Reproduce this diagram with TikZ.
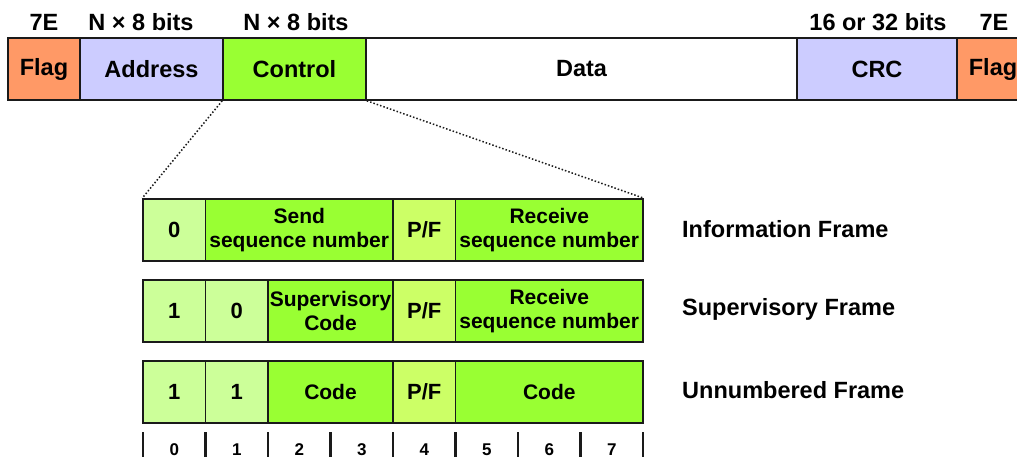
\documentclass[tikz,border=0pt]{standalone}
\usepackage{fontspec}
\setmainfont{Liberation Sans}
\definecolor{flagc}{HTML}{FF9966}
\definecolor{lavc}{HTML}{CCCCFF}
\definecolor{ctrlc}{HTML}{99FF33}
\definecolor{lightc}{HTML}{CCFF99}
\definecolor{pfc}{HTML}{CCFF66}
\definecolor{edgec}{HTML}{1A1A1A}
\begin{document}
\begin{tikzpicture}[x=1pt,y=-1pt,
  field/.style={draw=edgec, line width=1.6pt, inner sep=0pt, minimum height=62pt,
    font=\bfseries\fontsize{23.5}{28}\selectfont},
  cell/.style={draw=edgec, line width=1.6pt, inner sep=0pt, minimum height=62pt,
    align=center, font=\bfseries\fontsize{21}{24.5}\selectfont},
  bigcell/.style={cell, font=\bfseries\fontsize{22}{26}\selectfont},
  toplabel/.style={anchor=base, inner sep=0pt, font=\bfseries\fontsize{23.5}{28}\selectfont},
  rowlabel/.style={anchor=west, inner sep=0pt, font=\bfseries\fontsize{23.5}{28}\selectfont},
  bitnum/.style={anchor=base, inner sep=0pt, font=\bfseries\fontsize{17}{20}\selectfont},
  tick/.style={line width=2.2pt, draw=edgec},
  zoomline/.style={dotted, line width=1.5pt, draw=edgec}
]
\clip (0,0) rectangle (1017,459);

% HDLC frame
\node[field, fill=flagc, minimum width=72pt]  (flagL) at (44,69)    {Flag};
\node[field, fill=lavc,  minimum width=143pt] (addr)  at (151.5,69) {Address};
\node[field, fill=ctrlc, minimum width=143pt] (ctrl)  at (294.5,69) {Control};
\node[field, fill=white, minimum width=431pt] (data)  at (581.5,69) {Data};
\node[field, fill=lavc,  minimum width=160pt] (crc)   at (877,69)   {CRC};
\node[field, fill=flagc, minimum width=72pt]  (flagR) at (993,69)   {Flag};

% field sizes
\node[toplabel] (tflagL) at (44,30.5)  {7E};
\node[toplabel] (taddr)  at (141,30.5) {N × 8 bits};
\node[toplabel] (tctrl)  at (296,30.5) {N × 8 bits};
\node[toplabel] (tcrc)   at (878,30.5) {16 or 32 bits};
\node[toplabel] (tflagR) at (994,30.5) {7E};

% Information frame
\node[bigcell, fill=lightc, minimum width=62.5pt]  (i0)    at (174.25,230) {0};
\node[cell,    fill=ctrlc,  minimum width=187.5pt] (isend) at (299.25,230) {Send\\sequence number};
\node[bigcell, fill=pfc,    minimum width=62.5pt]  (ipf)   at (424.25,230) {P/F};
\node[cell,    fill=ctrlc,  minimum width=187.5pt] (irecv) at (549.25,230) {Receive\\sequence number};

% Supervisory frame
\node[bigcell, fill=lightc, minimum width=62.5pt]  (s0)    at (174.25,311) {1};
\node[bigcell, fill=lightc, minimum width=62.5pt]  (s1)    at (236.75,311) {0};
\node[cell,    fill=ctrlc,  minimum width=125pt]   (ssup)  at (330.5,311)  {Supervisory\\Code};
\node[bigcell, fill=pfc,    minimum width=62.5pt]  (spf)   at (424.25,311) {P/F};
\node[cell,    fill=ctrlc,  minimum width=187.5pt] (srecv) at (549.25,311) {Receive\\sequence number};

% Unnumbered frame
\node[bigcell, fill=lightc, minimum width=62.5pt]  (u0)     at (174.25,392) {1};
\node[bigcell, fill=lightc, minimum width=62.5pt]  (u1)     at (236.75,392) {1};
\node[cell,    fill=ctrlc,  minimum width=125pt]   (ucode)  at (330.5,392)  {Code};
\node[bigcell, fill=pfc,    minimum width=62.5pt]  (upf)    at (424.25,392) {P/F};
\node[cell,    fill=ctrlc,  minimum width=187.5pt] (ucode2) at (549.25,392) {Code};

% frame type names
\node[rowlabel] (linfo) at (682,229) {Information Frame};
\node[rowlabel] (lsup)  at (682,309) {Supervisory Frame};
\node[rowlabel] (lun)   at (682,390) {Unnumbered Frame};

% control field expanded
\draw[zoomline] (ctrl.south west) -- (i0.north west);
\draw[zoomline] (ctrl.south east) -- (irecv.north east);

% bit positions
\foreach \i in {0,...,8}
  \draw[tick] ({143+62.5*\i},432) -- ({143+62.5*\i},457);
\foreach \i in {0,...,7}
  \node[bitnum] (b\i) at ({174.25+62.5*\i},455) {\i};
\end{tikzpicture}
\end{document}
